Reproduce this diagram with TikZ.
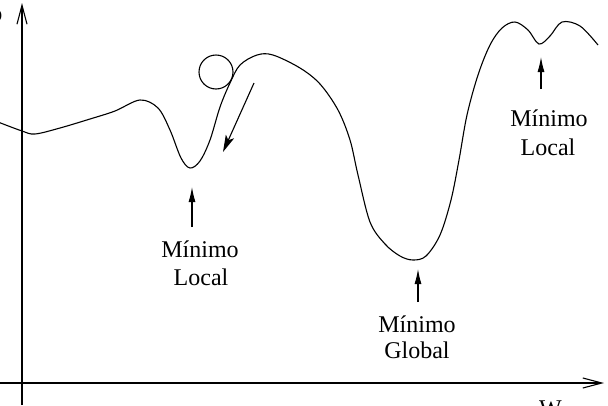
\documentclass[tikz,border=0pt]{standalone}
\usepackage{fontspec}
\setmainfont{Liberation Serif}
\usetikzlibrary{arrows.meta}
\begin{document}
\begin{tikzpicture}[x=1pt,y=-1pt,
  lbl/.style={inner sep=0pt,anchor=base,font=\fontsize{24}{28}\selectfont},
  axisline/.style={line width=1.2pt,-{Straight Barb[length=19pt,width=10pt,line width=1.1pt]}},
  curveline/.style={line width=1.1pt},
  markarrow/.style={line width=1.1pt,-{Latex[length=15pt,width=7pt]}},
  rollarrow/.style={line width=1.1pt,-{Stealth[length=17pt,width=9pt,inset=4pt]}}]
\useasboundingbox (0,0) rectangle (608,405);
\clip (0,0) rectangle (608,405);
% axes
\coordinate (yb) at (22,405);
\coordinate (yt) at (22,3);
\coordinate (xl) at (0,383);
\coordinate (xr) at (604,383);
\draw[axisline] (yb) -- (yt);
\draw[axisline] (xl) -- (xr);
\node[lbl,anchor=base east] (ylab) at (2.5,21) {Erro};
\node[lbl,anchor=base west] (xlab) at (539,416) {W};
% curve
\draw[curveline] plot[smooth,tension=0.55] coordinates {
 (-2,122) (22,131) (35,134) (60,128) (90,119) (115,111) (140,100) (158,108)
 (170,130) (181,158) (190,168) (200,161) (210,140) (220,107) (230,83) (240,65)
 (257,55) (273,55) (300,68) (320,84) (338,110) (350,140) (358,175) (370,222)
 (385,244) (400,256) (413,260) (426,256) (440,235) (451,200) (459,160) (467,115)
 (478,75) (490,45) (502,28) (515,22) (528,30) (539,44) (550,36) (562,22)
 (580,26) (598,45)};
% ball
\node[draw,circle,line width=1.1pt,minimum size=34pt,inner sep=0pt] (ball) at (216,72) {};
\coordinate (rs) at (254,83);
\coordinate (re) at (223,152);
\draw[rollarrow] (rs) -- (re);
% labels with arrows
\coordinate (a1) at (192,227); \coordinate (t1) at (192,187);
\draw[markarrow] (a1) -- (t1);
\node[lbl] (m1) at (200,257) {Mínimo};
\node[lbl] (l1) at (201,285) {Local};
\coordinate (a2) at (418,302); \coordinate (t2) at (418,269);
\draw[markarrow] (a2) -- (t2);
\node[lbl] (m2) at (417,332) {Mínimo};
\node[lbl] (l2) at (417,358) {Global};
\coordinate (a3) at (541,89); \coordinate (t3) at (541,57);
\draw[markarrow] (a3) -- (t3);
\node[lbl] (m3) at (549,126) {Mínimo};
\node[lbl] (l3) at (548,155) {Local};
\end{tikzpicture}
\end{document}
